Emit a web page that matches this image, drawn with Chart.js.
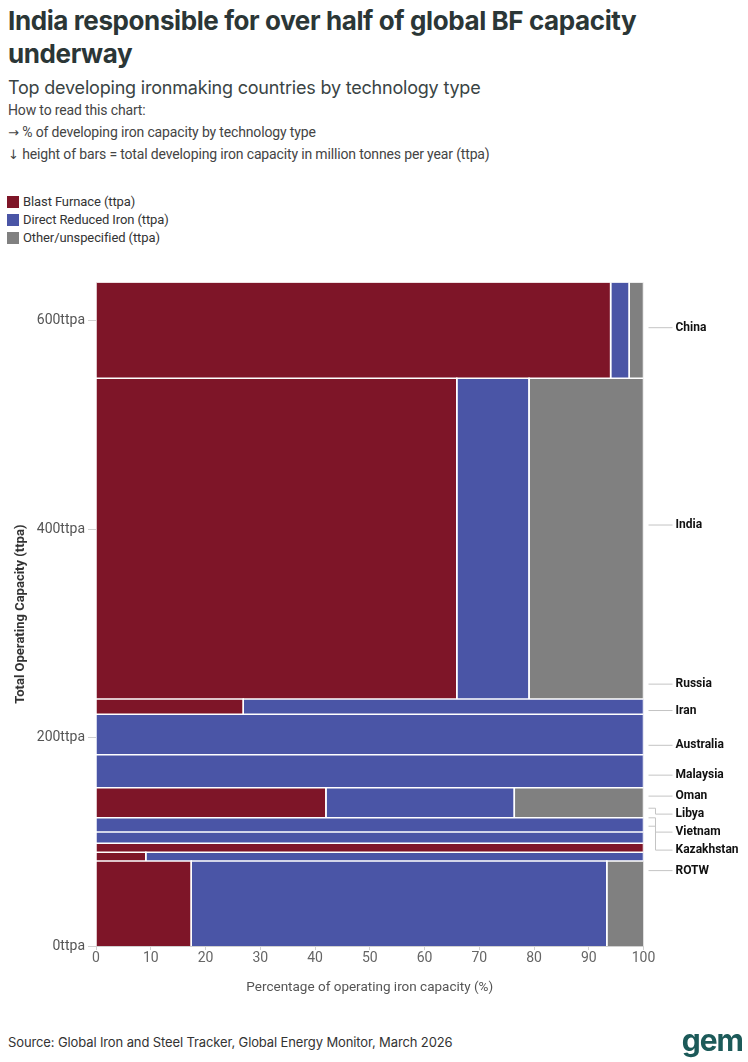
<!DOCTYPE html>
<html>
<head>
<meta charset="utf-8">
<script src="https://cdn.jsdelivr.net/npm/chart.js@4.4.1/dist/chart.umd.min.js"></script>
<style>
  body { margin: 0; background: #fff; width: 748px; height: 1062px; position: relative; overflow: hidden; font-family: Inter, sans-serif; color: #2d3838; }
  .abs { position: absolute; left: 8px; margin: 0; white-space: nowrap; }
  #title { top: 4px; width: 680px; white-space: normal; font: bold 26px/33px Inter, sans-serif; letter-spacing: -0.4px; color: #2b3636; }
  #subtitle { top: 77px; font: 18px/22px Inter, sans-serif; letter-spacing: -0.2px; color: #3a4444; }
  .note { font: 14px/16px Roboto, sans-serif; letter-spacing: -0.15px; color: #444; }
  .arrow { font-family: "DejaVu Sans", sans-serif; font-size: 13px; letter-spacing: 0; }
  #legend { position: absolute; left: 7px; top: 193px; font: 13px/18px Roboto, sans-serif; letter-spacing: -0.1px; color: #333; }
  #legend div { display: flex; align-items: center; height: 18px; }
  #legend span { display: inline-block; width: 12px; height: 12px; margin-right: 4px; }
  #chart { position: absolute; left: 0; top: 262px; }
  #source { top: 1034px; font: 13px/16px Inter, sans-serif; letter-spacing: -0.12px; color: #333; }
  #logo { position: absolute; right: 5px; top: 1023px; font: bold 30px/34px Inter, sans-serif; letter-spacing: -1px; color: #1c5a59; }
</style>
</head>
<body>
<h1 id="title" class="abs">India responsible for over half of global BF capacity underway</h1>
<div id="subtitle" class="abs">Top developing ironmaking countries by technology type</div>
<div class="abs note" style="top:102px">How to read this chart:</div>
<div class="abs note" style="top:124px"><span class="arrow">→</span> % of developing iron capacity by technology type</div>
<div class="abs note" style="top:146px"><span class="arrow">↓</span> height of bars = total developing iron capacity in million tonnes per year (ttpa)</div>
<div id="legend"></div>
<canvas id="chart" width="748" height="770"></canvas>
<div id="source" class="abs">Source: Global Iron and Steel Tracker, Global Energy Monitor, March 2026</div>
<div id="logo">gem</div>
<script>
// countries from top of the chart to the bottom
const countries = ['China', 'India', 'Russia', 'Iran', 'Australia', 'Malaysia', 'Oman', 'Libya', 'Vietnam', 'Kazakhstan', 'ROTW'];
// total developing capacity, million tonnes per year (bar height)
const capacity = [92, 308, 14.5, 39, 31.5, 29, 13.5, 11, 8.5, 8.5, 81.5];
// share of each country's capacity by technology, %
const blastFurnace = [94.0, 65.9, 26.9, 0, 0, 42.0, 0, 0, 100, 9.1, 17.4];
const directReduced = [3.4, 13.2, 73.1, 100, 100, 34.4, 100, 100, 0, 90.9, 75.9];
const otherUnspecified = [2.6, 20.9, 0, 0, 0, 23.6, 0, 0, 0, 0, 6.7];
const yTicks = [0, 200, 400, 600];
const xTicks = [0, 10, 20, 30, 40, 50, 60, 70, 80, 90, 100];

const series = [
  { label: 'Blast Furnace (ttpa)', values: blastFurnace, color: '#7e1528' },
  { label: 'Direct Reduced Iron (ttpa)', values: directReduced, color: '#4a55a6' },
  { label: 'Other/unspecified (ttpa)', values: otherUnspecified, color: '#808080' }
];

const total = capacity.reduce((a, b) => a + b, 0);
const font = 'Roboto, sans-serif';

// html legend
document.getElementById('legend').innerHTML = series
  .map(s => '<div><span style="background:' + s.color + '"></span>' + s.label + '</div>').join('');

// one filled shape per country / technology cell
const datasets = [];
let rowTop = total;
countries.forEach((country, i) => {
  const rowBottom = rowTop - capacity[i];
  let x0 = 0;
  series.forEach(s => {
    const v = s.values[i];
    if (!v) return;
    const x1 = x0 + v;
    datasets.push({
      label: s.label,
      country: country,
      data: [{ x: x0, y: rowBottom }, { x: x0, y: rowTop }, { x: x1, y: rowTop }, { x: x1, y: rowBottom }],
      fill: 'shape',
      backgroundColor: s.color,
      borderColor: '#fff',
      borderWidth: 1.5,
      pointRadius: 0,
      tension: 0
    });
    x0 = x1;
  });
  rowTop = rowBottom;
});

// country names on the right with leader lines
const countryLabels = {
  id: 'countryLabels',
  afterDraw(chart) {
    const { ctx, chartArea: area, scales: { y } } = chart;
    const track = 0.947; // labels sit on a slightly shorter track than the bars
    let prev = -Infinity;
    let top = total;
    ctx.save();
    ctx.font = 'bold 12px ' + font;
    ctx.textBaseline = 'middle';
    ctx.fillStyle = '#111';
    ctx.strokeStyle = '#c4c4c4';
    ctx.lineWidth = 1;
    countries.forEach((name, i) => {
      const mid = top - capacity[i] / 2;
      top -= capacity[i];
      const py = y.getPixelForValue(mid);
      const anchor = area.top + (py - area.top) * track;
      const ly = Math.max(anchor, prev + 18);
      prev = ly;
      const x0 = area.right + 5, xe = area.right + 12, x1 = area.right + 29;
      ctx.beginPath();
      ctx.moveTo(x0, anchor);
      if (Math.abs(ly - anchor) > 0.5) {
        ctx.lineTo(xe, anchor);
        ctx.lineTo(xe, ly);
      }
      ctx.lineTo(x1, ly);
      ctx.stroke();
      ctx.fillText(name, area.right + 32, ly);
    });
    ctx.restore();
  }
};

new Chart(document.getElementById('chart'), {
  type: 'line',
  data: { datasets },
  options: {
    responsive: false,
    animation: false,
    devicePixelRatio: 1,
    events: [],
    layout: { padding: { top: 20.3, right: 104.5, left: 9, bottom: 32 } },
    plugins: {
      legend: { display: false },
      tooltip: { enabled: false },
      filler: { drawTime: 'beforeDatasetsDraw' }
    },
    scales: {
      x: {
        type: 'linear',
        min: 0,
        max: 100,
        afterBuildTicks: s => { s.ticks = xTicks.map(v => ({ value: v })); },
        afterFit: s => { s.height = 54; },
        grid: { drawOnChartArea: false, drawTicks: true, tickLength: 4, color: '#d0d0d0' },
        border: { display: true, color: '#d0d0d0' },
        ticks: { padding: 0, color: '#666', font: { family: font, size: 14 } },
        title: { display: true, text: 'Percentage of operating iron capacity (%)', color: '#555', font: { family: font, size: 13.5 } }
      },
      y: {
        type: 'linear',
        min: 0,
        max: total,
        afterBuildTicks: s => { s.ticks = yTicks.map(v => ({ value: v })); },
        afterFit: s => { s.width = 87; },
        grid: { drawOnChartArea: false, drawTicks: true, tickLength: 8, color: '#d0d0d0' },
        border: { display: false },
        ticks: { padding: 3, color: '#555', font: { family: font, size: 14 }, callback: v => v + 'ttpa' },
        title: { display: true, text: 'Total Operating Capacity (ttpa)', color: '#333', font: { family: font, size: 13, weight: 'bold' } }
      }
    }
  },
  plugins: [countryLabels]
});
</script>
</body>
</html>
